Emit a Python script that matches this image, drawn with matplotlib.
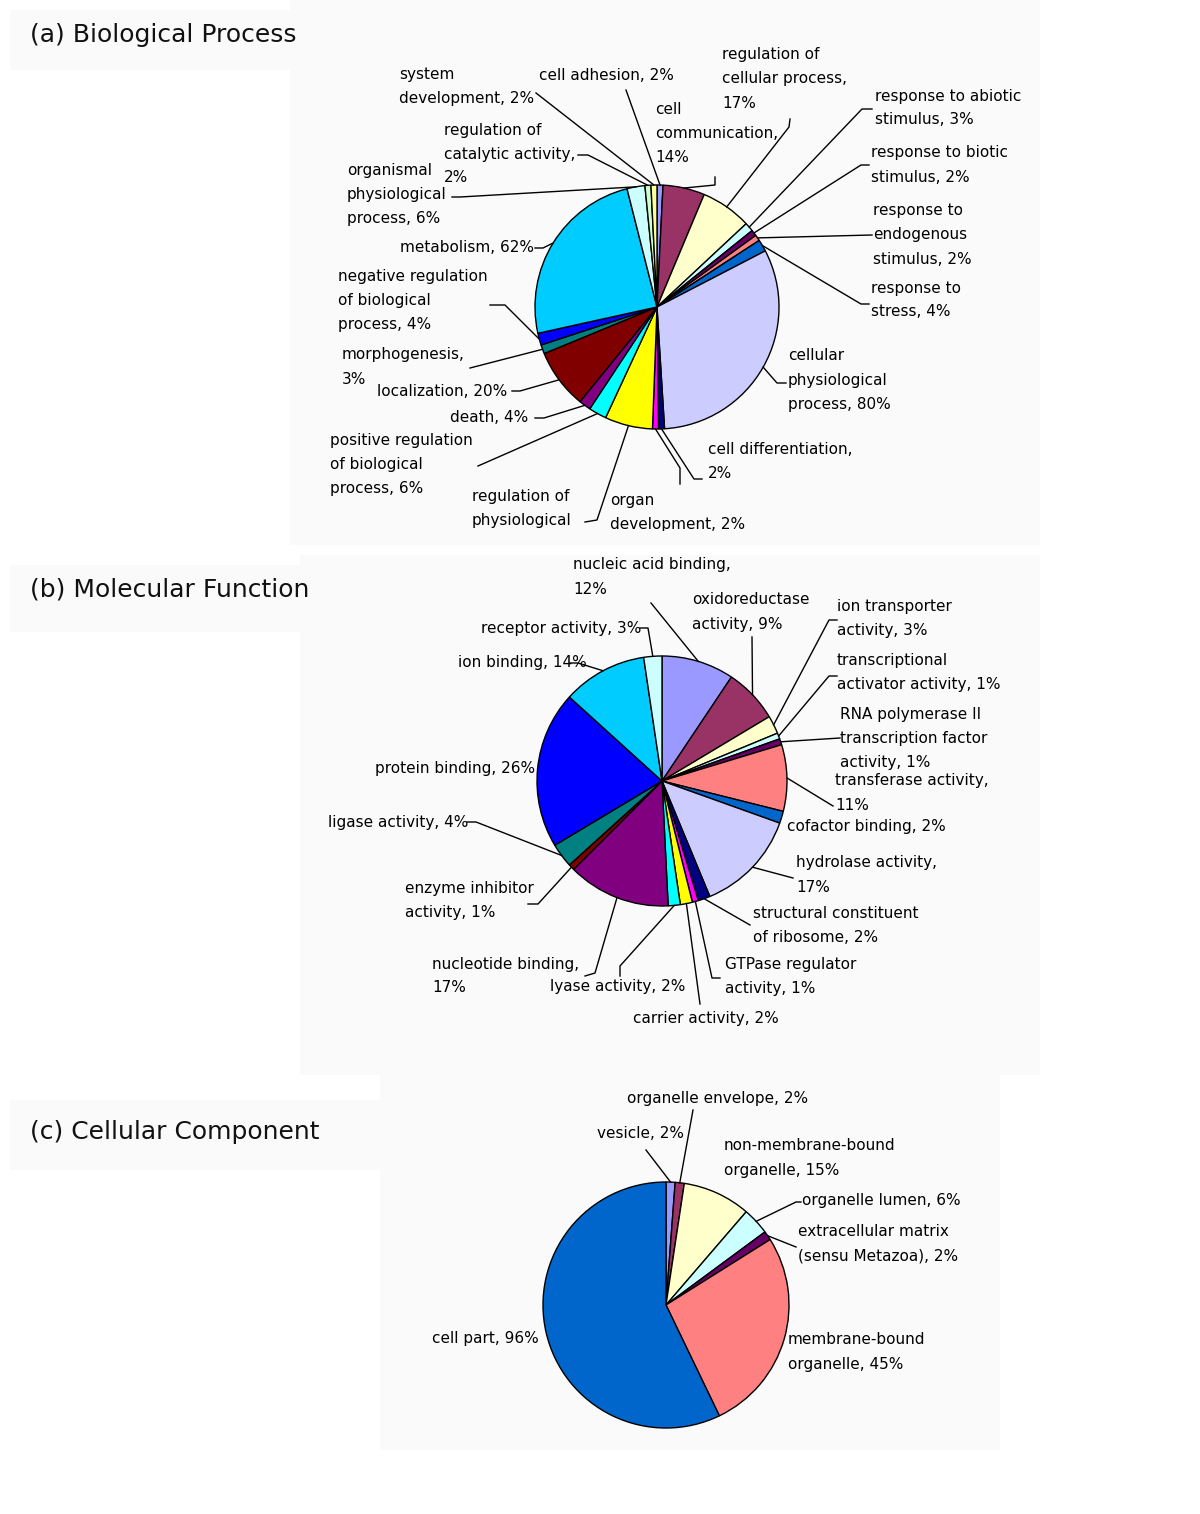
import matplotlib.pyplot as plt
import numpy as np
from matplotlib.patches import Rectangle
from matplotlib.transforms import Bbox

W, H = 1200, 1514

# Excel chart fill palette, applied in series order
PALETTE = ["#9999FF", "#993366", "#FFFFCC", "#CCFFFF", "#660066", "#FF8080",
           "#0066CC", "#CCCCFF", "#000080", "#FF00FF", "#FFFF00", "#00FFFF",
           "#800080", "#800000", "#008080", "#0000FF", "#00CCFF", "#CCFFFF",
           "#CCFFCC", "#FFFF99"]

# (a) Biological Process
bp_names = ["cell adhesion", "cell\ncommunication", "regulation of\ncellular process",
            "response to abiotic\nstimulus", "response to biotic\nstimulus",
            "response to\nendogenous\nstimulus", "response to\nstress",
            "cellular\nphysiological\nprocess", "cell differentiation",
            "organ\ndevelopment", "regulation of\nphysiological\nprocess",
            "positive regulation\nof biological\nprocess", "death", "localization",
            "morphogenesis", "negative regulation\nof biological\nprocess",
            "metabolism", "organismal\nphysiological\nprocess",
            "regulation of\ncatalytic activity", "system\ndevelopment"]
bp_values = [2, 14, 17, 3, 2, 2, 4, 80, 2, 2, 16, 6, 4, 20, 3, 4, 62, 6, 2, 2]

# (b) Molecular Function
mf_names = ["nucleic acid binding", "oxidoreductase\nactivity", "ion transporter\nactivity",
            "transcriptional\nactivator activity",
            "RNA polymerase II\ntranscription factor\nactivity", "transferase activity",
            "cofactor binding", "hydrolase activity", "structural constituent\nof ribosome",
            "GTPase regulator\nactivity", "carrier activity", "lyase activity",
            "nucleotide binding", "enzyme inhibitor\nactivity", "ligase activity",
            "protein binding", "ion binding", "receptor activity"]
mf_values = [12, 9, 3, 1, 1, 11, 2, 17, 2, 1, 2, 2, 17, 1, 4, 26, 14, 3]

# (c) Cellular Component
cc_names = ["vesicle", "organelle envelope", "non-membrane-bound\norganelle",
            "organelle lumen", "extracellular matrix\n(sensu Metazoa)",
            "membrane-bound\norganelle", "cell part"]
cc_values = [2, 2, 15, 6, 2, 45, 96]

# label layout: x, y of first line, separator before value, leader points (label side first)
bp_layout = [
    (539, 75, " ", [(626, 90)]),
    (655, 110, "\n", [(715, 177), (715, 185)]),
    (722, 55, "\n", [(790, 119), (789, 127)]),
    (875, 96, " ", [(872, 109), (862, 109)]),
    (871, 153, " ", [(869, 165), (861, 165)]),
    (873, 211, " ", [(872, 235)]),
    (871, 288, " ", [(869, 304), (861, 304)]),
    (788, 356, " ", [(786, 383), (777, 383)]),
    (708, 450, "\n", [(702, 479), (694, 479)]),
    (610, 500, " ", [(680, 484), (680, 468)]),
    (472, 496, " ", [(585, 522), (597, 520)]),
    (330, 441, " ", [(478, 466)]),
    (450, 418, " ", [(535, 418), (544, 418)]),
    (377, 391, " ", [(512, 391), (520, 391)]),
    (342, 355, "\n", [(470, 368)]),
    (338, 277, " ", [(490, 305), (505, 305)]),
    (400, 248, " ", [(535, 248), (543, 248)]),
    (347, 171, " ", [(452, 197), (460, 197)]),
    (444, 130, "\n", [(578, 155), (588, 155)]),
    (399, 75, " ", [(536, 93)]),
]
mf_layout = [
    (573, 565, "\n", [(651, 603)]),
    (692, 600, " ", [(752, 637)]),
    (837, 606, " ", [(837, 620), (829, 620)]),
    (837, 661, " ", [(837, 676), (829, 676)]),
    (840, 714, " ", [(840, 738)]),
    (835, 781, "\n", [(833, 806)]),
    (787, 826, " ", []),
    (796, 863, "\n", [(793, 878)]),
    (753, 913, " ", [(750, 925)]),
    (725, 964, " ", [(720, 978), (712, 978)]),
    (633, 1019, " ", [(700, 1004)]),
    (550, 986, " ", [(620, 976), (620, 966)]),
    (432, 964, "\n", [(585, 976), (595, 973)]),
    (405, 889, " ", [(528, 904), (538, 904)]),
    (328, 822, " ", [(467, 822), (476, 822)]),
    (375, 769, " ", []),
    (458, 663, " ", [(570, 663), (578, 663)]),
    (481, 628, " ", [(640, 628), (648, 628)]),
]
cc_layout = [
    (597, 1133, " ", [(646, 1150)]),
    (627, 1098, " ", [(693, 1110)]),
    (724, 1145, " ", []),
    (802, 1201, " ", [(801, 1202), (796, 1202)]),
    (798, 1231, " ", [(796, 1247)]),
    (788, 1339, " ", []),
    (432, 1338, " ", []),
]

panels = [
    ("(a) Biological Process", 35, bp_names, bp_values, bp_layout, (657, 307), 122, 24, 531),
    ("(b) Molecular Function", 589, mf_names, mf_values, mf_layout, (662, 781), 125, 24, None),
    ("(c) Cellular Component", 1132, cc_names, cc_values, cc_layout, (666, 1305), 123, 25, None),
]

plt.rcParams["font.family"] = ["DejaVu Sans"]
fig = plt.figure(figsize=(W / 100, H / 100), dpi=100)
ax = fig.add_axes([0, 0, 1, 1])

# faint backdrop boxes of the pasted screenshots
for x0, y0, x1, y1 in [(10, 10, 300, 70), (290, 0, 1040, 545), (10, 565, 310, 632),
                       (300, 555, 1040, 1075), (10, 1100, 390, 1170), (380, 1075, 1000, 1450)]:
    ax.add_patch(Rectangle((x0, y0), x1 - x0, y1 - y0, facecolor="#fafafa",
                           edgecolor="none", zorder=0))

wedge_sets = []
for title, ty, names, values, layout, center, radius, step, clip_y in panels:
    wedges, _ = ax.pie(values, colors=PALETTE[:len(values)], startangle=-90,
                       counterclock=True, center=center, radius=radius,
                       wedgeprops=dict(edgecolor="black", linewidth=1.0))
    wedge_sets.append(wedges)

ax.set_xlim(0, W)
ax.set_ylim(H, 0)
ax.set_aspect("auto")
ax.axis("off")

for (title, ty, names, values, layout, center, radius, step, clip_y), wedges in zip(panels, wedge_sets):
    ax.text(30, ty, title, fontsize=18, va="center", ha="left", color="#111111")
    clip = None
    if clip_y is not None:
        pts = ax.transData.transform([(0, 0), (W, clip_y)])
        clip = Bbox.from_extents(pts[:, 0].min(), pts[:, 1].min(),
                                 pts[:, 0].max(), pts[:, 1].max())
    for name, v, (x, y, sep, path), w in zip(names, values, layout, wedges):
        label = f"{name},{sep}{v}%"
        for i, line in enumerate(label.split("\n")):
            t = ax.text(x, y + i * step, line, fontsize=11, va="center", ha="left")
            if clip is not None:
                t.set_clip_box(clip)
                t.set_clip_on(True)
        if path:
            mid = np.deg2rad((w.theta1 + w.theta2) / 2)
            ex = w.center[0] + w.r * np.cos(mid)
            ey = w.center[1] + w.r * np.sin(mid)
            xs = [p[0] for p in path] + [ex]
            ys = [p[1] for p in path] + [ey]
            ax.plot(xs, ys, color="black", linewidth=1.0, zorder=1)

fig.savefig("out.png", dpi=100)
